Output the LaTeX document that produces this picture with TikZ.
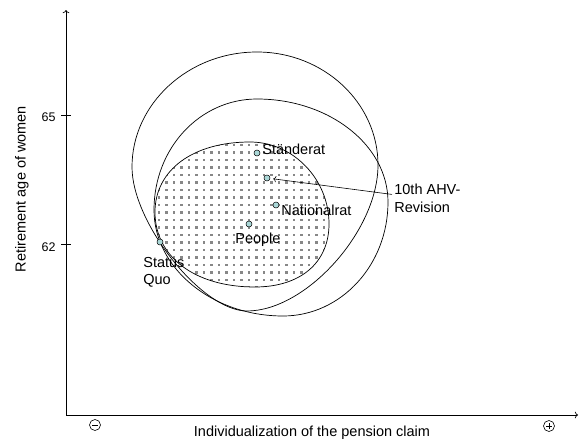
\documentclass[tikz,border=0pt]{standalone}
\usepackage{fontspec}
\setmainfont{Liberation Sans}
\usetikzlibrary{arrows.meta}

\definecolor{spotfill}{RGB}{170,215,215}
\definecolor{dotgray}{RGB}{135,135,135}

\tikzset{
  spot/.style={circle,draw,fill=spotfill,inner sep=0pt,minimum size=6pt,line width=0.5pt},
  lbl/.style={inner sep=0pt,font=\fontsize{14.5}{17.5}\selectfont},
  ticklbl/.style={inner sep=0pt,anchor=base east,font=\fontsize{12.5}{15}\selectfont},
  signbox/.style={circle,draw,inner sep=0pt,minimum size=11pt,line width=0.6pt},
}

\begin{document}
\begin{tikzpicture}[x=1pt,y=-1pt,line width=0.7pt]
  \useasboundingbox (0,0) rectangle (579,442);
  % axes
  \coordinate (o) at (66,415);
  \draw[->] (o) -- (66,10);
  \draw[->] (o) -- (578,415);
  \draw (61,115) -- (71,115) (61,244) -- (71,244);
  \node[ticklbl] (t65) at (56,121) {65};
  \node[ticklbl] (t62) at (56,251) {62};
  \node[lbl,rotate=90,anchor=base] (ylab) at (25.5,189) {Retirement age of women};
  \node[lbl,anchor=base] (xlab) at (312,436) {Individualization of the pension claim};
  \node[signbox] (minus) at (95,425) {};
  \draw[line width=0.6pt] ([xshift=-3pt]minus.center) -- ([xshift=3pt]minus.center);
  \node[signbox] (plus) at (549,426) {};
  \draw[line width=0.6pt] ([xshift=-3pt]plus.center) -- ([xshift=3pt]plus.center)
    ([yshift=-3pt]plus.center) -- ([yshift=3pt]plus.center);
  % people's area
  \def\people{(329,224) .. controls (329,179) and (293,142) .. (250,142)
    .. controls (193,142) and (155,170) .. (155,212)
    .. controls (155,257) and (195,287) .. (255,287)
    .. controls (300,287) and (329,263) .. cycle}
  \begin{scope}
    \clip \people;
    \foreach \x in {150,157.5,...,335}
      \foreach \y in {136,143.5,...,292}
        \fill[dotgray] (\x,\y) rectangle ++(2.5,2.5);
  \end{scope}
  \draw \people;
  % chambers
  \draw (378,165) .. controls (378,103) and (324,52) .. (257,52)
    .. controls (188,52) and (132,104) .. (132,167)
    .. controls (132,223) and (202,311) .. (247,311)
    .. controls (306,311) and (378,231) .. cycle;
  \draw (388,202) .. controls (388,145) and (329,99) .. (257,99)
    .. controls (200,99) and (154,148) .. (154,210)
    .. controls (154,268) and (212,316) .. (283,316)
    .. controls (341,316) and (388,265) .. cycle;
  % positions
  \node[spot] (sq) at (160,242) {};
  \node[spot] (st) at (257,153) {};
  \node[spot] (ahv) at (267,178) {};
  \node[spot] (nr) at (276,205) {};
  \node[spot] (pp) at (249,224) {};
  \node[lbl,anchor=base west] (stlbl) at (262,154) {Ständerat};
  \node[lbl,anchor=base west] (nrlbl) at (281,215) {Nationalrat};
  \node[lbl,anchor=base west] (pplbl) at (235,243) {People};
  \node[lbl,anchor=north west,align=left] (sqlbl) at (143,257) {Status\\Quo};
  \node[lbl,anchor=north west,align=left] (ahvlbl) at (394,184) {10th AHV-\\Revision};
  \draw[->,line width=0.6pt,shorten >=3pt] ([xshift=-2pt,yshift=4pt]ahvlbl.west) -- (ahv);
\end{tikzpicture}
\end{document}
